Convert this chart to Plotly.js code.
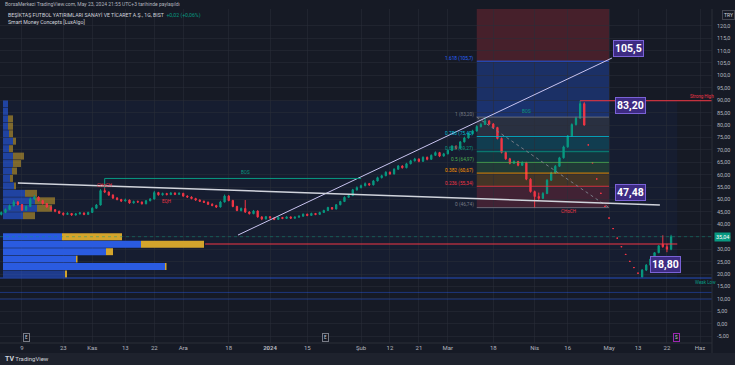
<!DOCTYPE html>
<html><head><meta charset="utf-8">
<script src="https://cdn.plot.ly/plotly-3.0.1.min.js"></script>
<style>
body{margin:0;background:#1e222d;overflow:hidden;font-family:Roboto,"Liberation Sans",sans-serif}
#chart{width:735px;height:353px}
#foot{height:12px;color:#d1d4dc;font-size:6px;padding-left:5px;line-height:12px}
</style></head><body>
<div id="chart"></div>
<div id="foot"><b style="font-size:7px">TV</b> TradingView</div>
<script>
// ---------- DATA ----------
const startDate = '2023-10-02';
const endDate = '2024-06-07';
const holidays = ['2024-01-01','2024-04-10','2024-04-11','2024-04-12','2024-04-23','2024-05-01'];
const tickDates = ['2023-10-09','2023-10-23','2023-11-01','2023-11-13','2023-11-22','2023-12-01','2023-12-18','2024-01-02','2024-01-15','2024-02-01','2024-02-12','2024-02-21','2024-03-01','2024-03-18','2024-04-01','2024-04-16','2024-05-02','2024-05-13','2024-05-22','2024-06-03'];
const tickLabels = ['9','23','Kas','13','22','Ara','18','<b>2024</b>','15','Şub','12','21','Mar','18','Nis','16','May','13','22','Haz'];

const open = [44.0,44.8,46.0,47.5,49.0,48.0,45.8,47.2,50.2,51.0,49.6,48.4,47.0,45.9,45.3,44.5,44.0,44.4,43.8,44.2,
44.6,44.0,44.8,46.5,47.8,53.6,53.0,51.8,50.6,50.0,49.4,49.8,48.6,49.2,49.0,48.3,49.5,50.2,52.8,51.9,
52.4,52.0,52.6,52.1,52.5,51.4,51.0,50.4,49.8,49.3,48.9,48.1,47.6,47.0,49.0,51.4,49.6,47.2,45.6,46.4,
45.0,44.3,45.4,43.0,42.2,43.1,42.6,42.0,42.8,42.4,43.0,42.5,42.9,43.3,44.1,43.6,44.4,44.0,44.8,45.6,
46.8,46.2,47.9,49.2,50.9,51.6,53.9,54.8,55.6,56.4,55.9,57.5,58.8,59.6,61.0,60.3,62.2,63.5,62.8,64.4,
65.6,66.3,65.4,67.0,66.2,67.8,68.9,67.5,68.4,69.8,71.5,70.6,73.2,74.8,76.5,77.6,79.4,80.2,81.6,80.4,
79.0,74.6,69.0,66.4,64.6,65.3,63.8,64.9,58.2,53.2,51.2,50.5,52.4,57.8,60.7,63.4,66.8,71.2,75.6,80.2,
82.8,88.6,72.0,64.8,58.3,52.5,47.25,42.55,38.3,34.45,31.0,27.9,25.1,22.6,20.35,18.8,21.6,23.6,26.0,28.6,
32.0,31.0,30.0];
const high = [45.2,46.4,48.0,49.8,49.4,48.2,47.6,50.8,51.8,51.3,49.9,48.6,47.3,46.2,45.5,44.8,44.9,44.6,44.6,45.0,
44.8,45.1,46.9,48.2,54.2,54.6,53.3,52.1,51.0,50.3,50.4,50.0,49.6,49.6,49.2,49.8,50.6,53.5,53.1,52.8,
52.7,53.0,52.9,52.9,52.7,51.7,51.3,50.7,50.1,49.6,49.2,48.5,47.9,49.5,52.0,51.8,49.9,47.5,46.8,49.8,
45.3,45.8,45.6,43.3,43.4,43.3,42.8,43.1,43.0,43.3,43.2,43.2,43.6,44.4,44.3,44.7,44.6,45.1,45.9,47.1,
47.0,48.2,49.5,51.3,52.0,54.3,55.3,56.0,56.9,56.7,57.9,59.2,60.0,61.4,61.3,62.6,63.9,63.8,64.8,66.0,
66.8,66.6,67.4,67.3,68.2,69.4,69.2,68.8,70.2,71.9,71.8,73.6,75.3,77.0,78.1,79.9,80.8,83.2,82.0,80.8,
79.3,75.0,69.4,66.8,65.8,65.6,65.4,65.2,58.6,53.6,52.8,53.0,58.2,61.2,63.9,67.2,71.7,76.0,80.7,83.4,
89.8,89.2,72.0,64.8,58.3,52.5,47.25,42.55,38.3,34.45,31.0,27.9,25.1,22.6,20.35,22.0,24.0,26.2,28.7,31.5,
35.6,32.2,35.8];
const low = [43.6,44.5,45.7,47.2,47.6,45.4,45.5,47.0,49.8,49.2,48.0,46.7,45.6,44.9,44.2,43.5,43.8,43.4,43.5,44.0,
43.7,43.9,44.6,46.3,47.6,52.6,51.5,50.2,49.7,49.0,49.2,48.3,48.4,48.7,48.0,48.1,49.3,50.0,51.6,51.6,
51.7,51.8,51.8,51.9,51.1,50.7,50.1,49.5,49.0,48.6,47.8,47.3,46.6,46.8,48.8,49.3,46.9,45.3,45.2,44.6,
44.0,44.1,42.7,41.7,42.0,42.3,41.7,41.8,42.1,42.2,42.2,42.3,42.7,43.1,43.3,43.4,43.7,43.8,44.6,45.4,
45.9,46.0,47.7,49.0,50.6,51.4,53.6,54.5,55.3,55.5,55.7,57.3,58.5,59.4,60.0,60.1,62.0,62.5,62.6,64.2,
65.3,65.0,65.2,65.8,66.0,67.6,67.1,67.3,68.2,69.6,70.2,70.4,73.0,74.6,76.2,77.4,79.0,80.0,80.0,78.6,
74.2,68.6,66.0,64.2,64.3,63.4,63.5,57.8,52.8,46.74,49.6,50.2,52.2,57.5,60.4,63.1,66.5,70.9,75.3,79.8,
82.5,79.8,72.0,64.8,58.3,52.5,47.25,42.55,38.3,34.45,31.0,27.9,25.1,22.6,20.35,18.8,21.2,23.3,25.8,28.4,
30.6,28.8,29.6];
const close = [44.8,46.0,47.5,49.0,48.0,45.8,47.2,50.2,51.0,49.6,48.4,47.0,45.9,45.3,44.5,44.0,44.4,43.8,44.2,44.6,
44.0,44.8,46.5,47.8,53.6,53.0,51.8,50.6,50.0,49.4,49.8,48.6,49.2,49.0,48.3,49.5,50.2,52.8,51.9,52.4,
52.0,52.6,52.1,52.5,51.4,51.0,50.4,49.8,49.3,48.9,48.1,47.6,47.0,49.0,51.4,49.6,47.2,45.6,46.4,45.0,
44.3,45.4,43.0,42.2,43.1,42.6,42.0,42.8,42.4,43.0,42.5,42.9,43.3,44.1,43.6,44.4,44.0,44.8,45.6,46.8,
46.2,47.9,49.2,50.9,51.6,53.9,54.8,55.6,56.4,55.9,57.5,58.8,59.6,61.0,60.3,62.2,63.5,62.8,64.4,65.6,
66.3,65.4,67.0,66.2,67.8,68.9,67.5,68.4,69.8,71.5,70.6,73.2,74.8,76.5,77.6,79.4,80.2,81.6,80.4,79.0,
74.6,69.0,66.4,64.6,65.3,63.8,64.9,58.2,53.2,51.2,50.5,52.4,57.8,60.7,63.4,66.8,71.2,75.6,80.2,82.8,
88.6,80.0,72.0,64.8,58.3,52.5,47.25,42.55,38.3,34.45,31.0,27.9,25.1,22.6,20.35,21.6,23.6,26.0,28.6,31.4,
31.0,30.0,35.04];

// volume profiles (price level rows)
const upperLevels = [43.5,46.5,49.5,52.5,55.5,58.5,61.5,64.5,67.5,70.5,73.5,76.5,79.5,82.5,85.5,88.5];
const upperBuy    = [20,34,32,22,11,7,9,10,10,6,10,6,5,5,5,5];
const upperSell   = [12,15,20,12,2,3,5,8,11,4,3,4,5,5,0,0];
const lowerLevels = [20,23,26,29,32,35];
const lowerBuy    = [62,162,73,103,138,59];
const lowerSell   = [2,1.5,1.5,7,63,60];

// fibonacci retracement
const fibLow = 46.74, fibHigh = 83.20;
const fibRatios = [0,0.236,0.382,0.5,0.618,0.786,1,1.618];
const fibColors = ['#787b86','#f23645','#ff9800','#4caf50','#089981','#00bcd4','#787b86','#2962ff'];
const fibStartDate = '2024-03-12', fibEndDate = '2024-05-02';

// levels & lines
const strongHigh = 89.8, weakLow = 18.4, pocLevel = 32.1, lastPrice = 35.04;
const extraLows = [12.6, 9.9];
const bosLevel = 58.5;

// ---------- CALENDAR ----------
function tradingDays(s, e, hol) {
  const out = []; const d = new Date(s + 'T00:00:00Z'); const end = new Date(e + 'T00:00:00Z');
  while (d <= end) { const w = d.getUTCDay(); const k = d.toISOString().slice(0,10);
    if (w !== 0 && w !== 6 && hol.indexOf(k) < 0) out.push(k); d.setUTCDate(d.getUTCDate()+1); }
  return out;
}
const cal = tradingDays(startDate, endDate, holidays);
const idx = d => cal.indexOf(d);
const N = close.length;
const xs = close.map((c,i)=>i);

// ---------- TRACES ----------
const fmt = v => (Math.abs(v) >= 100 ? v.toFixed(1) : v.toFixed(2)).replace('.', ',');
const traces = [
  {type:'bar', orientation:'h', y:upperLevels, x:upperBuy, width:2.8, xaxis:'x', yaxis:'y',
   marker:{color:'rgba(41,98,255,0.55)', line:{width:0}}, hoverinfo:'skip'},
  {type:'bar', orientation:'h', y:upperLevels, x:upperSell, base:upperBuy, width:2.8, xaxis:'x', yaxis:'y',
   marker:{color:'rgba(212,165,44,0.55)', line:{width:0}}, hoverinfo:'skip'},
  {type:'bar', orientation:'h', y:lowerLevels, x:lowerBuy, width:2.8, xaxis:'x', yaxis:'y',
   marker:{color:['rgba(41,98,255,0.45)','#2a5be0','#2a5be0','#2a5be0','#2a5be0','#2a5be0'], line:{width:0}}, hoverinfo:'skip'},
  {type:'bar', orientation:'h', y:lowerLevels, x:lowerSell, base:lowerBuy, width:2.8, xaxis:'x', yaxis:'y',
   marker:{color:'#d4a52c', line:{width:0}}, hoverinfo:'skip'},
  {type:'candlestick', x:xs, open:open, high:high, low:low, close:close, xaxis:'x2', yaxis:'y',
   text: cal.slice(0,N), whiskerwidth:0,
   increasing:{line:{color:'#089981', width:1}, fillcolor:'#089981'},
   decreasing:{line:{color:'#f23645', width:1}, fillcolor:'#f23645'}, hoverinfo:'skip'}
];

// ---------- SHAPES ----------
const xL = -0.32, xR = 171.9;
const fs = idx(fibStartDate), fe = idx(fibEndDate);
const shapes = [];
shapes.push({type:'rect', xref:'x2', yref:'y', x0:xL, x1:163.5, y0:weakLow, y1:strongHigh,
  fillcolor:'rgba(41,98,255,0.05)', line:{width:0}, layer:'below'});
const fibLv = fibRatios.map(r => fibLow + r*(fibHigh-fibLow));
shapes.push({type:'rect', xref:'x2', yref:'y', x0:fs, x1:fe, y0:fibLv[7], y1:130,
  fillcolor:'rgba(242,54,69,0.22)', line:{width:0}, layer:'below'});
for (let i=1;i<fibLv.length;i++) {
  shapes.push({type:'rect', xref:'x2', yref:'y', x0:fs, x1:fe, y0:fibLv[i-1], y1:fibLv[i],
    fillcolor: fibColors[i], opacity: i===7 ? 0.3 : 0.2, line:{width:0}, layer:'below'});
}
fibLv.forEach((v,i)=>shapes.push({type:'line', xref:'x2', yref:'y', x0:fs, x1:fe, y0:v, y1:v,
  line:{color:fibColors[i], width:1}, opacity:0.8}));
shapes.push({type:'line', xref:'x2', yref:'y', x0:fs, x1:fe, y0:fibHigh, y1:fibLow,
  line:{color:'#787b86', width:1, dash:'dot'}});
shapes.push({type:'line', xref:'x2', yref:'y', x0:57.25, y0:35.7, x1:147.7, y1:107.0, line:{color:'#c9c4f0', width:1}});
shapes.push({type:'line', xref:'x2', yref:'y', x0:4.0, y0:56.7, x1:159.3, y1:47.8, line:{color:'#d1d4dc', width:1.5}});
shapes.push({type:'line', xref:'x2', yref:'y', x0:25, x1:87, y0:bosLevel, y1:bosLevel, line:{color:'#089981', width:1}});
shapes.push({type:'line', xref:'x2', yref:'y', x0:25, x1:25, y0:bosLevel, y1:54.6, line:{color:'#089981', width:1}});
shapes.push({type:'line', xref:'x2', yref:'y', x0:49.3, x1:163.5, y0:pocLevel, y1:pocLevel, line:{color:'#f23645', width:1}});
shapes.push({type:'line', xref:'x2', yref:'y', x0:140, x1:xR, y0:strongHigh, y1:strongHigh, line:{color:'#f23645', width:1}});
shapes.push({type:'line', xref:'x2', yref:'y', x0:xL, x1:xR, y0:weakLow, y1:weakLow, line:{color:'rgba(41,98,255,0.7)', width:1}});
extraLows.forEach(v=>shapes.push({type:'line', xref:'x2', yref:'y', x0:xL, x1:xR, y0:v, y1:v, line:{color:'rgba(41,98,255,0.4)', width:1}}));
shapes.push({type:'line', xref:'x2', yref:'y', x0:xL, x1:xR, y0:lastPrice, y1:lastPrice, line:{color:'rgba(8,153,129,0.45)', width:1, dash:'dot'}});
shapes.push({type:'line', xref:'paper', yref:'paper', x0:1, x1:1, y0:-0.03, y1:1, line:{color:'#2a2e39', width:1}});
shapes.push({type:'line', xref:'paper', yref:'paper', x0:0, x1:1, y0:0, y1:0, line:{color:'#2a2e39', width:1}});

// ---------- ANNOTATIONS ----------
const fibNames = fibRatios.map((r,i)=> (r===0?'0':r===1?'1':String(r)) + ' (' + fmt(fibLv[i]) + ')');
const ann = [];
fibLv.forEach((v,i)=>ann.push({xref:'x2', yref:'y', x:fs-0.3, y:v, xanchor:'right', yanchor:'middle', yshift:3,
  text:fibNames[i], showarrow:false, font:{size:4.8, color:fibColors[i]}}));
function tag(x,y,t){ ann.push({xref:'x2', yref:'y', x:x, y:y, xanchor:'left', yanchor:'bottom', text:'<b>'+t+'</b>',
  showarrow:false, font:{size:10.5, color:'#ffffff', family:'Roboto'}, bgcolor:'#3d2b82', bordercolor:'#7a62d6', borderwidth:1, borderpad:1}); }
tag(148.0, 107.4, '105,5');
tag(148.4, 84.6, '83,20');
tag(148.4, 49.6, '47,48');
tag(156.9, 20.4, '18,80');
function small(x,y,t,c){ ann.push({xref:'x2', yref:'y', x:x, y:y, text:t, showarrow:false, font:{size:4.5, color:c}}); }
small(59, 60.7, 'BOS', '#089981');
small(127, 85.4, 'BOS', '#089981');
small(137.3, 45.2, 'CHoCH', '#f23645');
small(40, 49.3, 'EQH', '#f23645');
small(25, 55.6, 'CHoCH', '#f23645');
small(169.6, 91.6, 'Strong High', '#f23645');
small(170.3, 16.6, 'Weak Low', '#089981');
const P = ypx => (343 - ypx)/334;
ann.push({xref:'paper', yref:'paper', x:0.004, y:P(4.5), xanchor:'left', yanchor:'middle', showarrow:false,
  text:'BorsaMerkezi TradingView.com, May 23, 2024 21:55 UTC+3 tarihinde paylaşıldı', font:{size:5, color:'#b2b5be'}});
ann.push({xref:'paper', yref:'paper', x:0.009, y:P(15), xanchor:'left', yanchor:'middle', showarrow:false,
  text:'BEŞİKTAŞ FUTBOL YATIRIMLARI SANAYİ VE TİCARET A.Ş., 1G, BIST  <span style="color:#089981">+0,02 (+0,06%)</span>', font:{size:5.2, color:'#d1d4dc'}});
ann.push({xref:'paper', yref:'paper', x:0.009, y:P(21.5), xanchor:'left', yanchor:'middle', showarrow:false,
  text:'Smart Money Concepts [LuxAlgo]', font:{size:5.2, color:'#d1d4dc'}});
ann.push({xref:'paper', yref:'paper', x:1.014, y:P(15), xanchor:'left', yanchor:'middle', showarrow:false,
  text:'TRY', font:{size:5, color:'#d1d4dc'}, bordercolor:'#434651', borderwidth:1, borderpad:1, bgcolor:'#161a25'});
ann.push({xref:'paper', yref:'y', x:1.003, y:lastPrice, xanchor:'left', yanchor:'middle', showarrow:false,
  text:fmt(lastPrice), font:{size:5.5, color:'#ffffff'}, bgcolor:'#089981', borderpad:1});
function ev(x, t, c){ ann.push({xref:'x2', yref:'paper', x:x, y:P(337), xanchor:'center', yanchor:'middle', showarrow:false,
  text:t, font:{size:4.5, color:'#d1d4dc'}, bordercolor:c, borderwidth:1, borderpad:1, bgcolor:'#161a25'}); }
ev(6, 'E', '#787b86');
ev(78.3, 'E', '#787b86');
ev(163.2, 'S', '#9c27b0');

const layout = {
  width:735, height:353, margin:{l:0, r:23, t:9, b:10},
  paper_bgcolor:'#161a25', plot_bgcolor:'#161a25',
  showlegend:false, barmode:'overlay', dragmode:false, boxgap:0.55,
  font:{family:'Roboto, Liberation Sans, sans-serif', color:'#b2b5be'},
  xaxis:{range:[-3,709], visible:false, fixedrange:true},
  xaxis2:{overlaying:'x', side:'bottom', range:[xL, xR], rangeslider:{visible:false},
    tickmode:'array', tickvals: tickDates.map(idx), ticktext: tickLabels, ticks:'',
    tickfont:{size:6, color:'#b2b5be'}, showgrid:true, gridcolor:'rgba(42,46,57,0.55)', gridwidth:1,
    zeroline:false, showline:false, fixedrange:true},
  yaxis:{side:'right', range:[-7.77,126.74], tickmode:'array',
    tickvals:[-5,0,5,10,15,20,25,30,35,40,45,50,55,60,65,70,75,80,85,90,95,100,105,110,115,120],
    ticktext:[-5,0,5,10,15,20,25,30,35,40,45,50,55,60,65,70,75,80,85,90,95,100,105,110,115,120].map(fmt),
    tickfont:{size:5.5, color:'#b2b5be'}, ticks:'', showgrid:true, gridcolor:'rgba(42,46,57,0.55)',
    zeroline:false, showline:false, fixedrange:true, ticklabelstandoff:4},
  shapes:shapes, annotations:ann
};
Plotly.newPlot('chart', traces, layout, {staticPlot:true, displayModeBar:false});
</script></body></html>
